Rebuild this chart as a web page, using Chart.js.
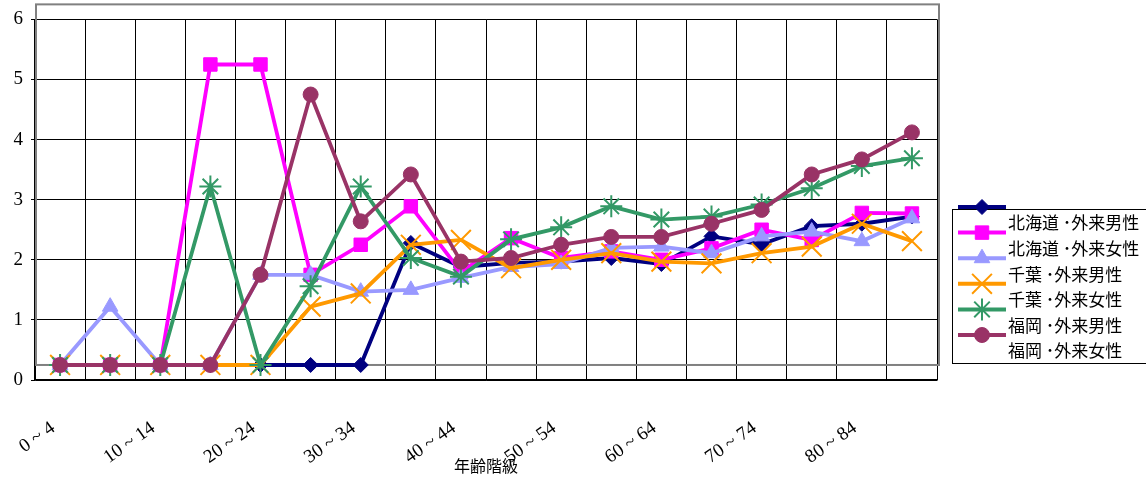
<!DOCTYPE html>
<html lang="ja">
<head>
<meta charset="utf-8">
<title>年齢階級別</title>
<script src="https://cdn.jsdelivr.net/npm/chart.js@4.4.1/dist/chart.umd.min.js"></script>
<style>
    html, body { margin: 0; padding: 0; background: #fff; }
    #chart { display: block; }
</style>
</head>
<body>
<canvas id="chart" width="1146" height="481"></canvas>
<script>
// 年齢階級
var ageGroups = ['0 ~ 4', '5 ~ 9', '10 ~ 14', '15 ~ 19', '20 ~ 24', '25 ~ 29', '30 ~ 34', '35 ~ 39', '40 ~ 44',
    '45 ~ 49', '50 ~ 54', '55 ~ 59', '60 ~ 64', '65 ~ 69', '70 ~ 74', '75 ~ 79', '80 ~ 84', '85 ~ 89'];

var yTicks = [0, 1, 2, 3, 4, 5, 6];

var hokkaidoMale   = [0.25, 0.25, 0.25, 0.25, 0.25, 0.25, 0.25, 2.28, 1.88, 1.95, 1.97, 2.03, 1.93, 2.39, 2.26, 2.56, 2.6, 2.72];
var hokkaidoFemale = [0.25, 0.25, 0.25, 5.25, 5.25, 1.75, 2.25, 2.89, 1.8, 2.36, 2.03, 2.14, 2.0, 2.19, 2.5, 2.33, 2.78, 2.77];
var chibaMale      = [0.25, 1.22, 0.25, 0.25, 1.75, 1.75, 1.47, 1.5, 1.7, 1.88, 1.93, 2.2, 2.22, 2.11, 2.39, 2.47, 2.31, 2.69];
var chibaFemale    = [0.25, 0.25, 0.25, 0.25, 0.25, 1.22, 1.44, 2.25, 2.33, 1.86, 2.0, 2.11, 1.97, 1.94, 2.11, 2.22, 2.6, 2.31];
var fukuokaMale    = [0.25, 0.25, 0.25, 3.22, 0.25, 1.56, 3.22, 2.03, 1.72, 2.34, 2.54, 2.89, 2.67, 2.72, 2.92, 3.19, 3.56, 3.69];
var fukuokaFemale  = [0.25, 0.25, 0.25, 0.25, 1.75, 4.75, 2.64, 3.42, 1.97, 2.03, 2.25, 2.38, 2.38, 2.6, 2.83, 3.42, 3.67, 4.12];

var seriesLabels = ['北海道 ･外来男性', '北海道 ･外来女性', '千葉 ･外来男性', '千葉 ･外来女性', '福岡 ･外来男性', '福岡 ･外来女性'];

(function () {
    var serif = "'Liberation Serif', 'DejaVu Serif', serif";
    var jp = "'Noto Sans CJK JP', 'Noto Sans', sans-serif";

    function series(idx, values, color, style, radius, order) {
        var stroked = (style === 'crossRot' || style === 'star');
        return {
            label: seriesLabels[idx],
            data: values,
            borderColor: color,
            backgroundColor: color,
            borderWidth: 3.8,
            pointStyle: style,
            pointRadius: radius,
            pointBorderWidth: stroked ? 2 : 1,
            pointBackgroundColor: color,
            pointBorderColor: color,
            tension: 0,
            fill: false,
            order: order
        };
    }

    var datasets = [
        series(0, hokkaidoMale, '#000080', 'rectRot', 7.5, 6),
        series(1, hokkaidoFemale, '#FF00FF', 'rect', 9.5, 5),
        series(2, chibaMale, '#9999FF', 'triangle', 9, 4),
        series(3, chibaFemale, '#FF9900', 'crossRot', 14, 3),
        series(4, fukuokaMale, '#339966', 'star', 11, 2),
        series(5, fukuokaFemale, '#993366', 'circle', 7.5, 1)
    ];

    // Grauer Rahmen, um 0.25 nach oben versetzt (wie im Original).
    var offsetFrame = {
        id: 'offsetFrame',
        beforeDatasetsDraw: function (chart) {
            var a = chart.chartArea;
            var y = chart.scales.y;
            var shift = y.getPixelForValue(0) - y.getPixelForValue(0.25);
            var ctx = chart.ctx;
            ctx.save();
            ctx.strokeStyle = '#808080';
            ctx.lineWidth = 2;
            ctx.strokeRect(a.left + 1, a.top - shift, a.right - a.left + 1, a.bottom - a.top);
            ctx.restore();
        }
    };

    function marker(ctx, ds, x, y) {
        if (Chart.helpers && Chart.helpers.drawPoint) {
            ctx.fillStyle = ds.pointBackgroundColor;
            ctx.strokeStyle = ds.pointBorderColor;
            ctx.lineWidth = ds.pointBorderWidth;
            Chart.helpers.drawPoint(ctx, {
                pointStyle: ds.pointStyle,
                radius: ds.pointRadius,
                borderWidth: ds.pointBorderWidth,
                rotation: 0
            }, x, y);
        }
    }

    // Legende mit Versatz zwischen Symbol und Text.
    var offsetLegend = {
        id: 'offsetLegend',
        afterDraw: function (chart) {
            var ctx = chart.ctx;
            var a = chart.chartArea;
            var left = a.right + 15;
            var boxTop = 209;
            var rowH = 25.6;
            var firstSym = 207;
            ctx.save();
            ctx.strokeStyle = '#000';
            ctx.lineWidth = 1;
            ctx.strokeRect(left + 0.5, boxTop + 0.5, 260, 154);
            chart.data.datasets.forEach(function (ds, i) {
                var sy = firstSym + i * rowH;
                ctx.strokeStyle = ds.borderColor;
                ctx.lineWidth = 4;
                ctx.beginPath();
                ctx.moveTo(left + 6, sy);
                ctx.lineTo(left + 54, sy);
                ctx.stroke();
                marker(ctx, ds, left + 30, sy);
                ctx.fillStyle = '#000';
                ctx.font = '17px ' + jp;
                ctx.textBaseline = 'middle';
                ctx.textAlign = 'left';
                ctx.fillText(ds.label, left + 56, sy + 16);
            });
            ctx.restore();
        }
    };

    new Chart(document.getElementById('chart').getContext('2d'), {
        type: 'line',
        data: {
            labels: ageGroups,
            datasets: datasets
        },
        options: {
            responsive: false,
            animation: false,
            layout: {
                padding: { top: 19, right: 209, left: 0, bottom: 0 }
            },
            plugins: {
                legend: { display: false },
                tooltip: { enabled: false }
            },
            scales: {
                x: {
                    offset: true,
                    grid: {
                        offset: true,
                        color: '#000',
                        lineWidth: 1,
                        drawTicks: false
                    },
                    border: { color: '#000', width: 1.5 },
                    ticks: {
                        autoSkip: false,
                        minRotation: 35,
                        maxRotation: 35,
                        padding: 37,
                        labelOffset: -7,
                        color: '#000',
                        font: { family: serif, size: 19 },
                        callback: function (value, index) {
                            return index % 2 === 0 ? this.getLabelForValue(value) : '';
                        }
                    },
                    title: {
                        display: true,
                        text: '年齢階級',
                        color: '#000',
                        font: { family: jp, size: 16 },
                        padding: { top: 0, bottom: 5 }
                    },
                    afterFit: function (scale) {
                        scale.height = 101;
                        scale.paddingLeft = 0;
                        scale.paddingRight = 0;
                    }
                },
                y: {
                    min: yTicks[0],
                    max: yTicks[yTicks.length - 1],
                    grid: {
                        color: '#000',
                        lineWidth: 1,
                        tickLength: 4
                    },
                    border: { color: '#000', width: 1.5 },
                    ticks: {
                        stepSize: 1,
                        padding: 8,
                        color: '#000',
                        font: { family: serif, size: 19 }
                    },
                    afterFit: function (scale) {
                        scale.width = 35;
                    }
                }
            }
        },
        plugins: [offsetFrame, offsetLegend]
    });
})();
</script>
</body>
</html>
